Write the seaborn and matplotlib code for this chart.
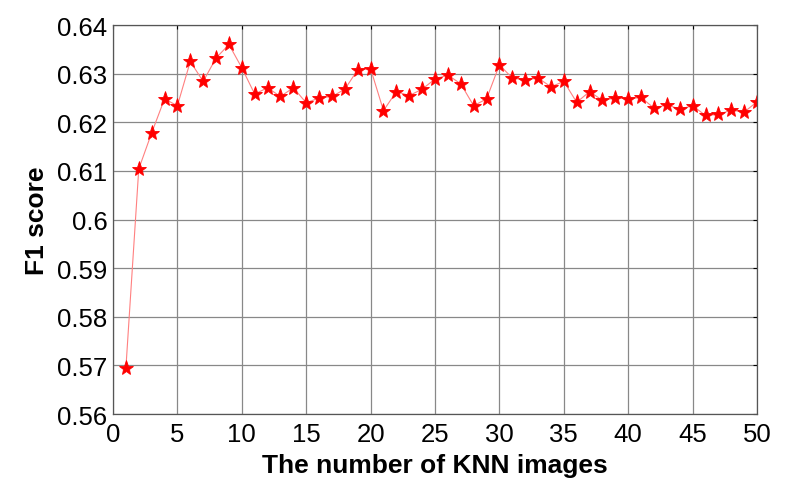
import matplotlib
matplotlib.use('Agg')
import matplotlib.pyplot as plt
import numpy as np
import pandas as pd
import seaborn as sns

# F1 score vs number of KNN images
knn_counts = list(range(1, 51))
f1_scores = [
    0.5694, 0.6104, 0.6178, 0.6248, 0.6234, 0.6325, 0.6284, 0.6332, 0.6360, 0.6312,
    0.6258, 0.6271, 0.6253, 0.6271, 0.6240, 0.6250, 0.6253, 0.6268, 0.6308, 0.6310,
    0.6224, 0.6263, 0.6255, 0.6268, 0.6289, 0.6297, 0.6279, 0.6234, 0.6248, 0.6318,
    0.6291, 0.6287, 0.6291, 0.6273, 0.6284, 0.6241, 0.6263, 0.6245, 0.6250, 0.6248,
    0.6251, 0.6229, 0.6236, 0.6227, 0.6234, 0.6214, 0.6216, 0.6225, 0.6221, 0.6242,
]
x_ticks = [0, 5, 10, 15, 20, 25, 30, 35, 40, 45, 50]
y_ticks = [0.56, 0.57, 0.58, 0.59, 0.60, 0.61, 0.62, 0.63, 0.64]
y_tick_labels = ['0.56', '0.57', '0.58', '0.59', '0.6', '0.61', '0.62', '0.63', '0.64']

df = pd.DataFrame({'k': knn_counts, 'f1': f1_scores})

sns.set_style('white')
plt.rcParams['font.family'] = ['Liberation Sans', 'DejaVu Sans']
plt.rcParams['text.color'] = 'black'
plt.rcParams['axes.labelcolor'] = 'black'

fig = plt.figure(figsize=(7.88, 4.89), dpi=100)
ax = fig.add_axes([0.1434, 0.1513, 0.8173, 0.7955])

sns.lineplot(data=df, x='k', y='f1', ax=ax, color='#ff8080', linewidth=0.8,
             marker='*', markersize=11, markerfacecolor='red',
             markeredgecolor='red', markeredgewidth=0.6)

ax.set_xlim(0, 50)
ax.set_ylim(0.56, 0.64)
ax.set_xticks(x_ticks)
ax.set_yticks(y_ticks)
ax.set_yticklabels(y_tick_labels)
ax.grid(True, color='#888888', linewidth=0.9)
ax.tick_params(direction='in', length=3, width=0.8, colors='black',
               labelsize=18.5, top=True, right=True)
ax.tick_params(axis='x', pad=6)
ax.tick_params(axis='y', pad=4)
for s in ax.spines.values():
    s.set_color('#555555')
    s.set_linewidth(0.9)

ax.set_xlabel('The number of KNN images', fontsize=19, fontweight='bold', labelpad=5)
ax.set_ylabel('F1 score', fontsize=19, fontweight='bold', labelpad=6)

fig.savefig('out.png', dpi=100)
